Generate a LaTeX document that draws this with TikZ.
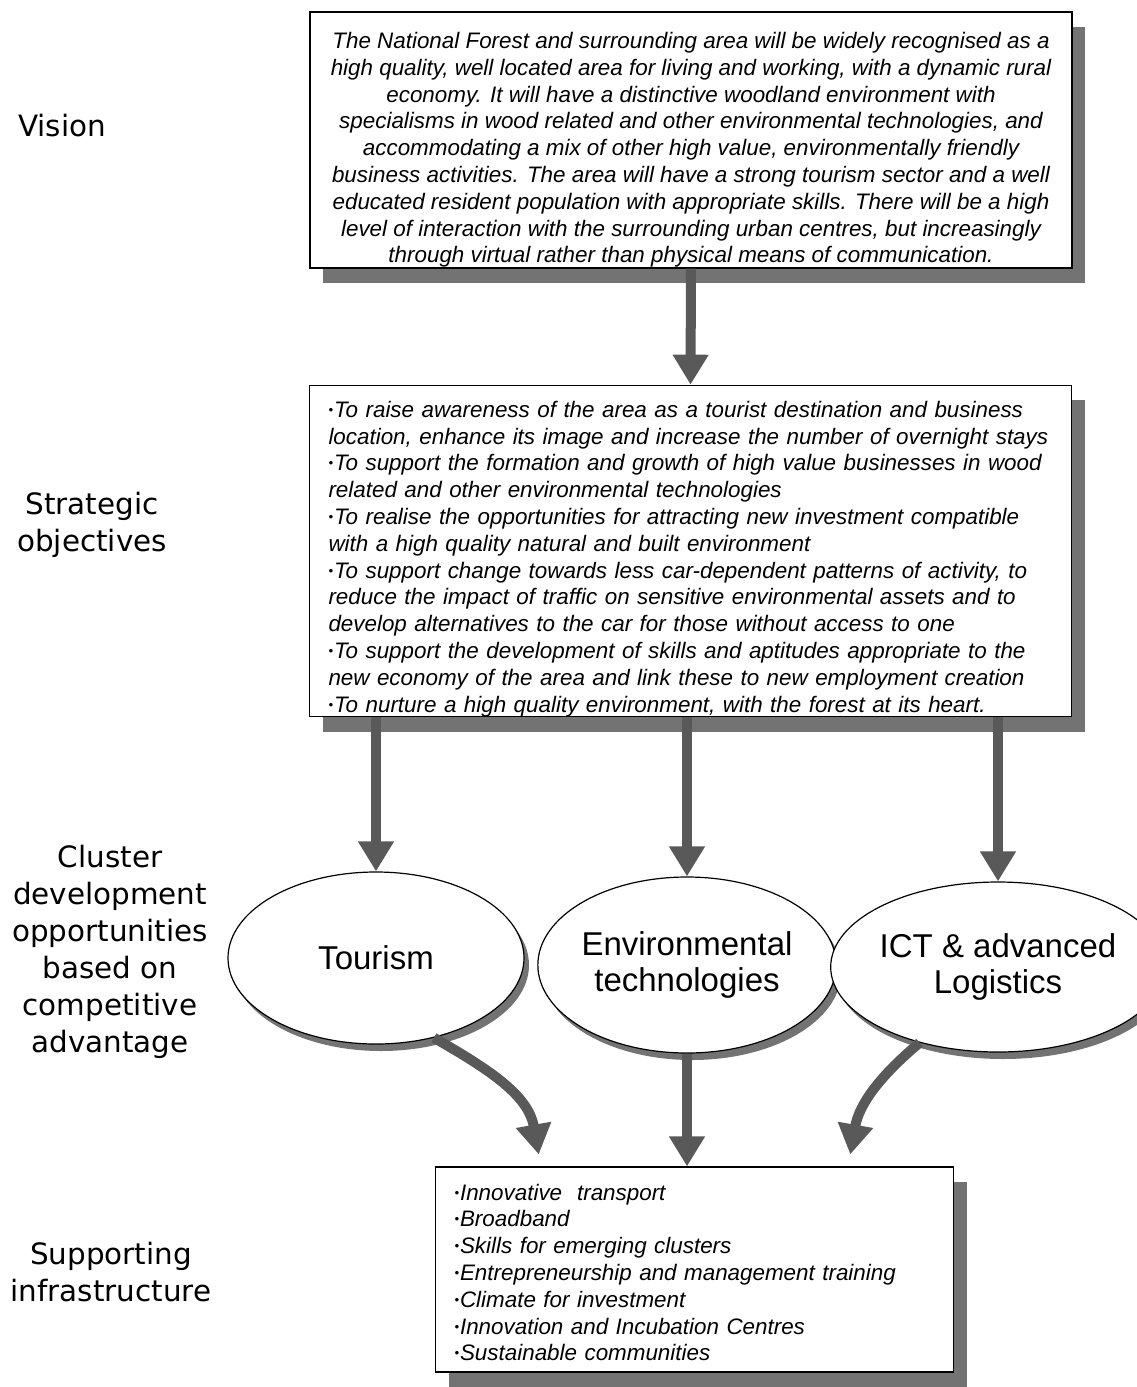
\documentclass[tikz,border=0pt]{standalone}
\usepackage{fontspec}
\setmainfont{Liberation Sans}
\newfontfamily\lblfont{DejaVu Sans}
\usetikzlibrary{arrows.meta,positioning,calc,shadows,shapes.geometric}
\tikzset{
  txtbox/.style  = {draw, rectangle, fill=white, line width=0.6pt, inner sep=0pt,
                    font=\fontsize{11.2}{13.4}\selectfont\itshape,
                    drop shadow={shadow xshift=6.5pt, shadow yshift=-7.5pt,
                                 fill=black!55, opacity=1}},
  cluster/.style = {draw, ellipse, fill=white, line width=0.6pt, inner sep=0pt,
                    align=center, font=\fontsize{16.5}{18}\selectfont,
                    drop shadow={shadow xshift=2.5pt, shadow yshift=-3.5pt,
                                 fill=black!55, opacity=1}},
  lvl/.style     = {align=center, font=\lblfont\fontsize{14.7}{18.5}\selectfont},
  fat/.style     = {-{Triangle[length=15pt,width=17pt]}, line width=5pt,
                    draw=black!65}
}
\newcommand{\bl}{\raisebox{0.25ex}{\fontsize{6.5}{6.5}\selectfont\textbullet}\kern0.5pt}

\begin{document}
\begin{tikzpicture}[x=0.5pt, y=-0.5pt]
\useasboundingbox (0,0) rectangle (1136,1387);

% --- level labels ---
\node[lvl] (lvis) at (62,126) {Vision};
\node[lvl] (lobj) at (92,525) {Strategic\\objectives};
\node[lvl] (lclu) at (110,952)
      {Cluster\\development\\opportunities\\based on\\competitive\\advantage};
\node[lvl] (lsup) at (111,1272) {Supporting\\infrastructure};

% --- vision ---
\node[txtbox, align=center, minimum width=381pt, minimum height=128pt] (vis)
      at (691,140)
      {\rule{0pt}{18pt}The National Forest and surrounding area will be widely recognised as a\\
       high quality, well located area for living and working, with a dynamic rural\\
       economy. It will have a distinctive woodland environment with\\
       specialisms in wood related and other environmental technologies, and\\
       accommodating a mix of other high value, environmentally friendly\\
       business activities. The area will have a strong tourism sector and a well\\
       educated resident population with appropriate skills. There will be a high\\
       level of interaction with the surrounding urban centres, but increasingly\\
       through virtual rather than physical means of communication.};

% --- strategic objectives ---
\node[txtbox, align=left, text width=362pt, inner xsep=9.5pt, minimum height=164pt] (obj)
      at (690.5,551)
      {\rule{0pt}{16pt}\bl To raise awareness of the area as a tourist destination and business\\
       location, enhance its image and increase the number of overnight stays\\
       \bl To support the formation and growth of high value businesses in wood\\
       related and other environmental technologies\\
       \bl To realise the opportunities for attracting new investment compatible\\
       with a high quality natural and built environment\\
       \bl To support change towards less car-dependent patterns of activity, to\\
       reduce the impact of traffic on sensitive environmental assets and to\\
       develop alternatives to the car for those without access to one\\
       \bl To support the development of skills and aptitudes appropriate to the\\
       new economy of the area and link these to new employment creation\\
       \bl To nurture a high quality environment, with the forest at its heart.};

% --- clusters ---
\node[cluster, minimum width=148pt, minimum height=86pt] (tour) at (376,958) {Tourism};
\node[cluster, minimum width=148pt, minimum height=88pt] (env) at (687,965)
      {Environmental\\technologies};
\node[cluster, minimum width=150pt, minimum height=85pt] (ict) at (998,967)
      {ICT \& advanced\\Logistics};

% --- supporting infrastructure ---
\node[txtbox, align=left, text width=240pt, inner xsep=9.5pt, minimum height=102.5pt] (sup)
      at (694.5,1269.5)
      {\rule{0pt}{11pt}\bl Innovative\ \ transport\\
       \bl Broadband\\
       \bl Skills for emerging clusters\\
       \bl Entrepreneurship and management training\\
       \bl Climate for investment\\
       \bl Innovation and Incubation Centres\\
       \bl Sustainable communities};

% --- arrows ---
\draw[fat] (vis.south) -- (obj.north);
\foreach \c in {tour,env,ict}
  \draw[fat] (obj.south -| \c.north) -- (\c.north);

\draw[fat] (tour.-54) to[out=-30,in=100]
      ($(sup.north west)!0.2!(sup.north east)+(0,-12)$);
\draw[fat] (env.south) -- (env.south |- sup.north);
\draw[fat] (ict.-136) to[out=-140,in=80]
      ($(sup.north west)!0.8!(sup.north east)+(0,-12)$);

\end{tikzpicture}
\end{document}
